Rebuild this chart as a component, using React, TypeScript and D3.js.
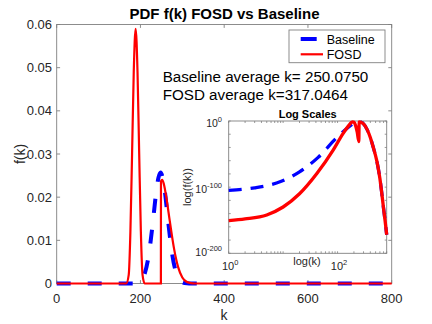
import React from "react";
import * as d3 from "d3";

// main plot
const baselineK = [0, 190, 200, 210, 220, 230, 238, 243, 248, 253, 258, 266, 276, 286, 296, 306, 316, 800];
const baselineF = [0, 0, 0.0005, 0.0022, 0.0067, 0.0145, 0.0215, 0.0245, 0.0257, 0.0245, 0.0215, 0.0145, 0.0067, 0.0022, 0.0005, 0.0001, 0, 0];

const fosdK = [0, 166, 172, 176, 180, 184, 188.5, 193, 197, 201, 205, 210, 248.8, 249, 252, 256, 262, 270, 280, 290, 300, 310, 320, 330, 800];
const fosdF = [0, 0, 0.002, 0.012, 0.03, 0.049, 0.059, 0.049, 0.03, 0.012, 0.002, 0, 0, 0.0237, 0.024, 0.023, 0.0198, 0.0145, 0.0082, 0.0038, 0.0014, 0.0004, 0.0001, 0, 0];

// inset, log10 of f(k)
const logBaselineK = [1, 3, 9, 20, 44, 97, 150, 200, 230, 250, 270, 300, 350, 400, 450, 525, 600, 645, 700, 750, 800];
const logBaselineF = [-105, -101, -91.5, -77, -55, -25, -11, -3.5, -1.9, -1.6, -1.8, -4.5, -13, -25, -39, -60, -87, -107, -132, -152, -172];

const logFosdK = [1, 2, 5, 10, 20, 42, 83, 126, 160, 180, 190, 200, 215, 230, 246, 249, 255, 270, 300, 350, 400, 450, 525, 600, 645, 700, 750, 800];
const logFosdF = [-150.5, -148, -142, -130, -110, -79, -44, -19, -7, -2.2, -1.2, -1.8, -7, -17, -31, -1.6, -1.2, -1.8, -4.5, -13, -25, -39, -60, -87, -107, -132, -152, -172];

const xTicks = [0, 200, 400, 600, 800];
const yTicks = [0, 0.01, 0.02, 0.03, 0.04, 0.05, 0.06];
const logXLabelExps = [0, 2];
const logYMajor = [0, -100, -200];
const logYMinor = [-20, -40, -60, -80, -120, -140, -160, -180];

const FONT = "'Liberation Sans', Arial, sans-serif";
const AX = "#262626";
const BOX = "#808080";

function zip(a: number[], b: number[]): [number, number][] {
  return a.map((v, i) => [v, b[i]]);
}

export default function App() {
  const W = 432;
  const H = 324;

  const x = d3.scaleLinear().domain([0, 800]).range([56.7, 391.7]);
  const y = d3.scaleLinear().domain([0, 0.06]).range([283.5, 24.5]);

  const lx = d3.scaleLog().domain([1, 800]).range([228.7, 386.7]);
  const ly = d3.scaleLinear().domain([-200, 0]).range([253.3, 121]);

  const mainLine = d3
    .line<[number, number]>()
    .x((d) => x(d[0]))
    .y((d) => y(d[1]))
    .curve(d3.curveMonotoneX);

  const logLine = d3
    .line<[number, number]>()
    .x((d) => lx(d[0]))
    .y((d) => ly(d[1]))
    .curve(d3.curveMonotoneX);

  const [x0, x1] = x.range();
  const [y0, y1] = y.range();
  const [lx0, lx1] = lx.range();
  const [ly0, ly1] = ly.range();
  const tl = 3.4;
  const ltl = 2;

  return (
    <svg
      width={W}
      height={H}
      style={{ position: "absolute", left: 0, top: 0, background: "#fff" }}
      fontFamily={FONT}
    >
      <rect x={0} y={0} width={W} height={H} fill="#fff" />

      {/* main axes */}
      <rect x={x0} y={y1} width={x1 - x0} height={y0 - y1} fill="#fff" stroke={BOX} strokeWidth={0.9} />
      {xTicks.map((t) => (
        <g key={"xt" + t}>
          <line x1={x(t)} x2={x(t)} y1={y0} y2={y0 - tl} stroke={BOX} strokeWidth={0.9} />
          <line x1={x(t)} x2={x(t)} y1={y1} y2={y1 + tl} stroke={BOX} strokeWidth={0.9} />
          <text x={x(t)} y={303} textAnchor="middle" fontSize={13} fill={AX}>
            {t}
          </text>
        </g>
      ))}
      {yTicks.map((t) => (
        <g key={"yt" + t}>
          <line x1={x0} x2={x0 + tl} y1={y(t)} y2={y(t)} stroke={BOX} strokeWidth={0.9} />
          <line x1={x1} x2={x1 - tl} y1={y(t)} y2={y(t)} stroke={BOX} strokeWidth={0.9} />
          <text x={52} y={y(t) + 4.6} textAnchor="end" fontSize={13} fill={AX}>
            {String(t)}
          </text>
        </g>
      ))}
      <text x={224} y={320} textAnchor="middle" fontSize={14} fill={AX}>
        k
      </text>
      <text transform={`translate(25,154) rotate(-90)`} textAnchor="middle" fontSize={14} fill={AX}>
        f(k)
      </text>
      <text x={224.5} y={19.3} textAnchor="middle" fontSize={15} fontWeight="bold" fill="#000">
        PDF f(k) FOSD vs Baseline
      </text>

      <path
        d={mainLine(zip(baselineK, baselineF)) || ""}
        fill="none"
        stroke="#0000ff"
        strokeWidth={4}
        strokeDasharray="14,17"
      />
      <path d={mainLine(zip(fosdK, fosdF)) || ""} fill="none" stroke="#ff0000" strokeWidth={2.2} />

      {/* legend */}
      <rect x={289} y={30} width={96} height={32.7} fill="#fff" stroke={BOX} strokeWidth={0.9} />
      <line x1={300.7} x2={323} y1={39} y2={39} stroke="#0000ff" strokeWidth={4} strokeDasharray="16,17" />
      <line x1={300.7} x2={323} y1={54.3} y2={54.3} stroke="#ff0000" strokeWidth={2.2} />
      <text x={326.7} y={44} fontSize={12.5} fill="#000">
        Baseline
      </text>
      <text x={326.7} y={59} fontSize={12.5} fill="#000">
        FOSD
      </text>

      {/* annotations */}
      <text x={162.7} y={81.7} fontSize={15.2} fill="#000">
        Baseline average k= 250.0750
      </text>
      <text x={162.7} y={100} fontSize={15.2} fill="#000">
        FOSD average k=317.0464
      </text>

      {/* inset */}
      <rect x={lx0} y={ly1} width={lx1 - lx0} height={ly0 - ly1} fill="#fff" stroke={BOX} strokeWidth={0.9} />
      {lx.ticks().map((t, i) => (
        <g key={"lxt" + i}>
          <line x1={lx(t)} x2={lx(t)} y1={ly0} y2={ly0 - ltl} stroke={BOX} strokeWidth={0.8} />
          <line x1={lx(t)} x2={lx(t)} y1={ly1} y2={ly1 + ltl} stroke={BOX} strokeWidth={0.8} />
        </g>
      ))}
      {logYMajor.concat(logYMinor).map((t) => (
        <g key={"lyt" + t}>
          <line x1={lx0} x2={lx0 + ltl} y1={ly(t)} y2={ly(t)} stroke={BOX} strokeWidth={0.8} />
          <line x1={lx1} x2={lx1 - ltl} y1={ly(t)} y2={ly(t)} stroke={BOX} strokeWidth={0.8} />
        </g>
      ))}
      {logXLabelExps.map((e) => (
        <text key={"lxl" + e} x={lx(Math.pow(10, e)) + 1.5} y={270} textAnchor="middle" fontSize={11} fill={AX}>
          10
          <tspan dy={-5} fontSize={7.5}>
            {e}
          </tspan>
        </text>
      ))}
      {logYMajor.map((e) => (
        <text
          key={"lyl" + e}
          x={222}
          y={ly(e) + (e === -200 ? 3 : 5.5)}
          textAnchor="end"
          fontSize={10.5}
          fill={AX}
        >
          10
          <tspan dy={-5} fontSize={7.5}>
            {e}
          </tspan>
        </text>
      ))}
      <text x={307} y={265} textAnchor="middle" fontSize={11} fill={AX}>
        log(k)
      </text>
      <text transform={`translate(191,187) rotate(-90)`} textAnchor="middle" fontSize={11} fill={AX}>
        log(f(k))
      </text>
      <text x={307.7} y={118.3} textAnchor="middle" fontSize={11} fontWeight="bold" fill="#000">
        Log Scales
      </text>

      <path
        d={logLine(zip(logBaselineK, logBaselineF)) || ""}
        fill="none"
        stroke="#0000ff"
        strokeWidth={3.3}
        strokeDasharray="13,9"
      />
      <path d={logLine(zip(logFosdK, logFosdF)) || ""} fill="none" stroke="#ff0000" strokeWidth={3.3} />
    </svg>
  );
}
